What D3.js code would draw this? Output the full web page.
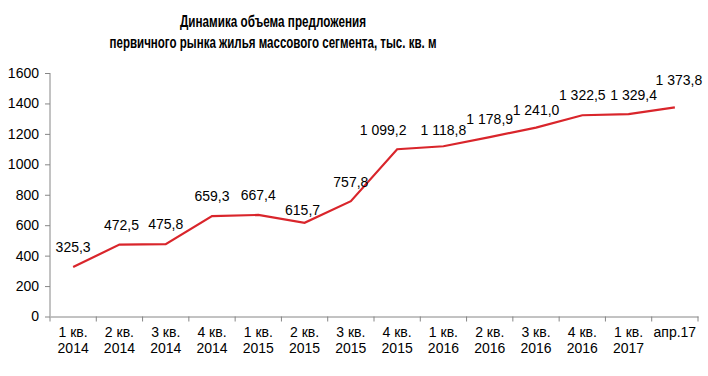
<!DOCTYPE html>
<html>
<head>
<meta charset="utf-8">
<script src="https://cdn.jsdelivr.net/npm/d3@7"></script>
<style>
  body { margin: 0; background: #fff; }
  svg { font-family: "Liberation Sans", Arial, sans-serif; }
</style>
</head>
<body>
<div id="chart"></div>
<script>
// categories: quarter + year (two lines)
const quarters = ['1 кв.', '2 кв.', '3 кв.', '4 кв.', '1 кв.', '2 кв.', '3 кв.', '4 кв.', '1 кв.', '2 кв.', '3 кв.', '4 кв.', '1 кв.', 'апр.17'];
const years = ['2014', '2014', '2014', '2014', '2015', '2015', '2015', '2015', '2016', '2016', '2016', '2016', '2017', ''];
const values = [325.3, 472.5, 475.8, 659.3, 667.4, 615.7, 757.8, 1099.2, 1118.8, 1178.9, 1241.0, 1322.5, 1329.4, 1373.8];
const yTicks = [0, 200, 400, 600, 800, 1000, 1200, 1400, 1600];

// manual label nudges (like in the original), px
const labelDx = [0, 2, 0, 0, 0, -2, 0, -14, 0, 0, 0, 0, 5, 4];
const labelDy = [-15, -15, -15, -15, -15, -8, -14, -14, -11, -13, -13, -15, -14, -22];

const width = 708, height = 376;
const margin = {top: 73, left: 50, right: 10, bottom: 60};

const svg = d3.select('#chart')
  .append('svg')
  .attr('width', width)
  .attr('height', height);

// title (condensed bold, like Arial Narrow)
const title = svg.append('text')
  .attr('text-anchor', 'middle')
  .style('font-weight', 'bold')
  .style('font-size', '17px')
  .attr('fill', '#000');
title.append('tspan').attr('x', 273).attr('y', 27)
  .attr('textLength', 186).attr('lengthAdjust', 'spacingAndGlyphs')
  .text('Динамика объема предложения');
title.append('tspan').attr('x', 273).attr('y', 48)
  .attr('textLength', 327).attr('lengthAdjust', 'spacingAndGlyphs')
  .text('первичного рынка жилья массового сегмента, тыс. кв. м');

const x = d3.scaleBand()
  .domain(d3.range(values.length))
  .range([margin.left, 698]);

const y = d3.scaleLinear()
  .domain([0, 1600])
  .range([316.5, margin.top]);

const axisColor = '#868686';

// y axis
const yAxis = svg.append('g')
  .attr('transform', `translate(${margin.left},0)`)
  .call(d3.axisLeft(y).tickValues(yTicks).tickSize(5).tickPadding(6).tickFormat(d3.format('d')));
yAxis.selectAll('text').style('font-size', '14px').attr('fill', '#000');
yAxis.selectAll('line, path').attr('stroke', axisColor);
yAxis.select('.domain').attr('d', `M0,${y(0)}V${y(1600)}`);

// x axis
const xAxis = svg.append('g')
  .attr('transform', `translate(0,${y(0)})`)
  .call(d3.axisBottom(x).tickSize(0).tickFormat(''));
xAxis.selectAll('path').attr('stroke', axisColor);
xAxis.selectAll('.tick').remove();

// ticks at band boundaries
const bounds = d3.range(values.length + 1).map(i => i < values.length ? x(i) : x(values.length - 1) + x.bandwidth());
svg.append('g')
  .selectAll('line')
  .data(bounds)
  .enter()
  .append('line')
  .attr('x1', d => d).attr('x2', d => d)
  .attr('y1', y(0)).attr('y2', y(0) + 5)
  .attr('stroke', axisColor);

// category labels
const cat = svg.append('g')
  .selectAll('text')
  .data(quarters)
  .enter()
  .append('text')
  .attr('text-anchor', 'middle')
  .style('font-size', '14px')
  .attr('fill', '#000');
cat.append('tspan')
  .attr('x', (d, i) => x(i) + x.bandwidth() / 2)
  .attr('y', 337)
  .text(d => d);
cat.append('tspan')
  .attr('x', (d, i) => x(i) + x.bandwidth() / 2)
  .attr('y', 353)
  .text((d, i) => years[i]);

// line
const line = d3.line()
  .x((d, i) => x(i) + x.bandwidth() / 2)
  .y(d => y(d));

svg.append('path')
  .datum(values)
  .attr('d', line)
  .attr('fill', 'none')
  .attr('stroke', '#d9252b')
  .attr('stroke-width', 2.2);

// data labels
const fmt = v => {
  const s = v.toFixed(1).replace('.', ',');
  const [int, dec] = s.split(',');
  return int.replace(/\B(?=(\d{3})+(?!\d))/g, ' ') + ',' + dec;
};
svg.append('g')
  .selectAll('text')
  .data(values)
  .enter()
  .append('text')
  .attr('x', (d, i) => x(i) + x.bandwidth() / 2 + labelDx[i])
  .attr('y', (d, i) => y(d) + labelDy[i])
  .attr('text-anchor', 'middle')
  .style('font-size', '14px')
  .attr('fill', '#000')
  .text(fmt);
</script>
</body>
</html>
